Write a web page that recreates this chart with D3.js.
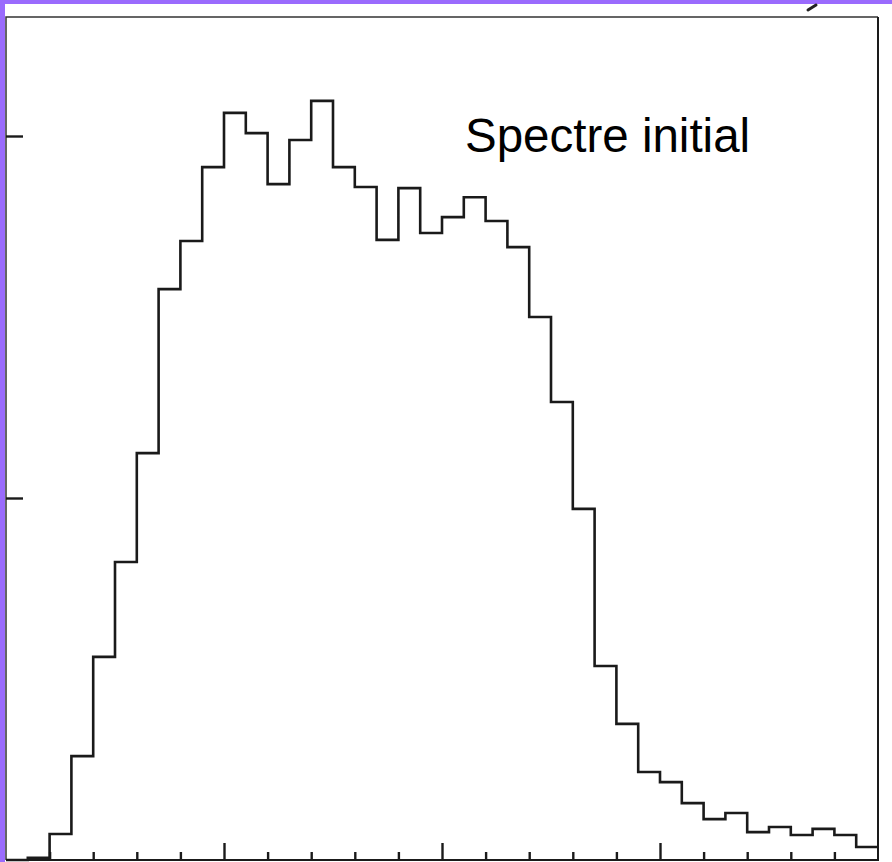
<!DOCTYPE html>
<html>
<head>
  <meta charset="utf-8">
  <style>
    body { margin: 0; background: #fff; }
    svg { display: block; }
    svg .tick line { stroke: #1a1a1a; stroke-width: 2.4px; }
    svg .domain { display: none; }
    svg .step {
      fill: none;
      stroke: #1a1a1a;
      stroke-width: 2.6px;
    }
    svg .frame {
      fill: none;
      stroke: #333;
      stroke-width: 1.5px;
    }
    svg .label {
      font: 47.5px "Liberation Sans", Arial, sans-serif;
      fill: #000;
    }
  </style>
</head>
<body>
<script src="https://d3js.org/d3.v7.min.js"></script>
<script>
  // histogram bins, 0.5 wide from 0 to 20
  var binWidth = 0.5;
  var counts = [
    0, 6, 72, 287, 561, 823, 1124, 1577, 1710, 1914,
    2064, 2008, 1867, 1989, 2097, 1914, 1859, 1713, 1856, 1732,
    1776, 1831, 1765, 1693, 1500, 1265, 970, 536, 376, 243,
    215, 157, 113, 130, 77, 91, 69, 86, 69, 36
  ];
  var yTicks = [1000, 2000];
  var xMinorTicks = [1, 2, 3, 4, 6, 7, 8, 9, 11, 12, 13, 14, 16, 17, 18, 19];
  var xMajorTicks = [5, 10, 15];
  var title = "Spectre initial";

  var W = 892, H = 862;
  var frameL = 6, frameR = 878, frameT = 17, frameB = 860;

  var svg = d3.select("body").append("svg")
      .attr("width", W)
      .attr("height", H);

  // purple slide border (top and left)
  svg.append("rect").attr("x", 0).attr("y", 0).attr("width", W).attr("height", 4).style("fill", "#9a6bfd");
  svg.append("rect").attr("x", 0).attr("y", 0).attr("width", 5).attr("height", H).style("fill", "#9a6bfd");

  var x = d3.scaleLinear().domain([0, 20]).range([frameL, frameR]);
  var y = d3.scaleLinear().domain([0, 2000]).range([frameB, 136]);

  // frame: faint left/top, darker right/bottom
  svg.append("path")
      .classed("frame", true)
      .attr("d", "M" + frameL + "," + frameB + "V" + frameT + "H" + frameR);
  svg.append("path")
      .classed("frame", true)
      .attr("d", "M" + frameL + "," + frameB + "H" + frameR + "V" + frameT)
      .style("stroke", "#1a1a1a")
      .style("stroke-width", "2px");

  // bottom ticks pointing inward
  svg.append("g")
      .attr("transform", "translate(0," + frameB + ")")
      .call(d3.axisTop(x).tickValues(xMinorTicks).tickSize(8).tickFormat(""));
  svg.append("g")
      .attr("transform", "translate(0," + frameB + ")")
      .call(d3.axisTop(x).tickValues(xMajorTicks).tickSize(17).tickFormat(""));

  // left ticks
  svg.append("g")
      .attr("transform", "translate(" + frameL + ",0)")
      .call(d3.axisRight(y).tickValues(yTicks).tickSize(17).tickFormat(""));

  // histogram outline
  var pts = counts.map(function (c, i) { return [i * binWidth, c]; });
  pts.push([counts.length * binWidth, counts[counts.length - 1]]);

  var step = d3.line()
      .x(function (d) { return x(d[0]); })
      .y(function (d) { return y(d[1]); })
      .curve(d3.curveStepAfter);

  svg.append("path")
      .classed("step", true)
      .attr("d", step(pts));

  svg.append("text")
      .classed("label", true)
      .attr("x", 465)
      .attr("y", 152)
      .text(title);

  // stray mark at the top edge
  svg.append("line")
      .attr("x1", 808).attr("y1", 10)
      .attr("x2", 816).attr("y2", 5)
      .style("stroke", "#222")
      .style("stroke-width", "3px")
      .style("stroke-linecap", "round");
</script>
</body>
</html>
